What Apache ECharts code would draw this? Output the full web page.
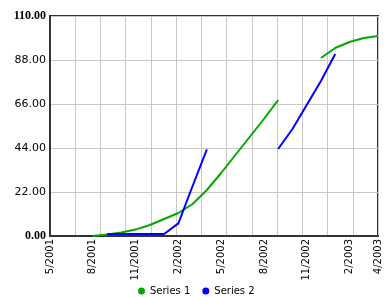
<!DOCTYPE html>
<html>
<head>
<meta charset="utf-8">
<script src="https://cdn.jsdelivr.net/npm/echarts@6/dist/echarts.min.js"></script>
<style>
html,body{margin:0;padding:0;background:#fff;}
#chart{width:389px;height:297px;}
</style>
</head>
<body>
<div id="chart"></div>
<script>
// Months counted from 5/2001 (index 0) to 4/2003 (index 23)
var tickLabels = ['5/2001','8/2001','11/2001','2/2002','5/2002','8/2002','11/2002','2/2003','4/2003'];
var months1 = ['8/2001','9/2001','10/2001','11/2001','12/2001','1/2002','2/2002','3/2002','4/2002','5/2002','6/2002','7/2002','8/2002','9/2002','10/2002','11/2002','12/2002','1/2003','2/2003','3/2003','4/2003'];
var values1 = [0, 0.8, 1.8, 3.2, 5.5, 8.5, 11.5, 16, 23, 31.5, 40.5, 49.5, 58.5, 68, null, null, 89, 94, 97, 99, 100];
var months2 = ['9/2001','10/2001','11/2001','12/2001','1/2002','2/2002','3/2002','4/2002','5/2002','6/2002','7/2002','8/2002','9/2002','10/2002','11/2002','12/2002','1/2003'];
var values2 = [1, 1, 1, 1, 1, 6.3, 25, 43.3, null, null, null, null, 43.5, 53.5, 65.5, 77.5, 91];
var yTicks = [0, 22, 44, 66, 88, 110];

function monthIndex(s) {
  var p = s.split('/');
  return (parseInt(p[1], 10) - 2001) * 12 + parseInt(p[0], 10) - 5;
}
function toPairs(ms, vs) {
  return ms.map(function (m, i) { return [monthIndex(m), vs[i]]; });
}
var tickMap = {};
tickLabels.forEach(function (t) { tickMap[monthIndex(t)] = t; });

var chart = echarts.init(document.getElementById('chart'), null, {renderer: 'canvas'});
chart.setOption({
  animation: false,
  backgroundColor: '#fff',
  grid: {left: 50, right: 11, top: 16, bottom: 61, show: true, borderColor: '#333', borderWidth: 2},
  legend: {
    data: ['Series 1', 'Series 2'],
    icon: 'circle',
    itemWidth: 7, itemHeight: 7,
    left: 133, top: 281,
    itemGap: 12,
    textStyle: {fontSize: 10, fontFamily: 'DejaVu Sans', color: '#000'}
  },
  xAxis: [{
    type: 'value',
    min: 0, max: 23, interval: 1,
    axisLine: {show: true, onZero: false, lineStyle: {color: '#333', width: 2}},
    axisTick: {show: false},
    splitLine: {show: false},
    axisLabel: {
      rotate: 90, margin: 3, fontSize: 10, fontFamily: 'DejaVu Sans', color: '#000',
      showMinLabel: true, showMaxLabel: true,
      formatter: function (v) { return tickMap[Math.round(v)] || ''; }
    }
  }, {
    type: 'value',
    min: 0, max: 13, interval: 1,
    position: 'bottom',
    axisLine: {show: false}, axisTick: {show: false}, axisLabel: {show: false},
    splitLine: {show: true, lineStyle: {color: '#c8c8c8', width: 1}}
  }],
  yAxis: {
    type: 'value',
    min: 0, max: 110, interval: 22,
    axisLine: {show: true, lineStyle: {color: '#333', width: 2}},
    axisTick: {show: false},
    splitLine: {show: true, lineStyle: {color: '#c8c8c8', width: 1}},
    axisLabel: {
      margin: 4, fontSize: 11, fontFamily: 'DejaVu Sans', color: '#000',
      formatter: function (v) {
        var s = v.toFixed(2);
        return (v === yTicks[0] || v === yTicks[yTicks.length - 1]) ? '{b|' + s + '}' : s;
      },
      rich: {b: {fontFamily: 'Liberation Serif', fontWeight: 'bold', fontSize: 12, color: '#000'}}
    }
  },
  series: [{
    name: 'Series 1', type: 'line', xAxisIndex: 0,
    data: toPairs(months1, values1),
    showSymbol: false, symbol: 'circle', connectNulls: false,
    itemStyle: {color: '#00a800'},
    lineStyle: {color: '#00a800', width: 2}
  }, {
    name: 'Series 2', type: 'line', xAxisIndex: 0,
    data: toPairs(months2, values2),
    showSymbol: false, symbol: 'circle', connectNulls: false,
    itemStyle: {color: '#0000ff'},
    lineStyle: {color: '#0000ff', width: 2}
  }]
});
</script>
</body>
</html>
